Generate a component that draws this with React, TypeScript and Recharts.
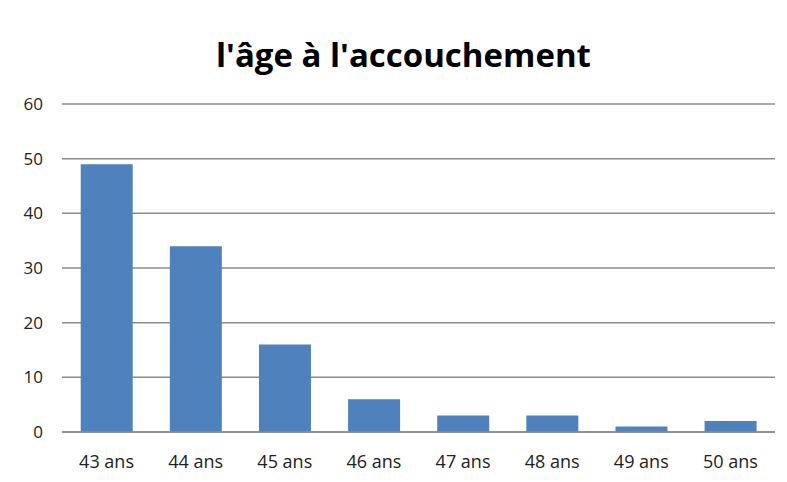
import { Bar, BarChart, CartesianGrid, XAxis, YAxis } from "recharts";

// values
const CATEGORIES = ["43 ans", "44 ans", "45 ans", "46 ans", "47 ans", "48 ans", "49 ans", "50 ans"];
const COUNTS = [49, 34, 16, 6, 3, 3, 1, 2];
const Y_TICKS = [0, 10, 20, 30, 40, 50, 60];

const data = CATEGORIES.map((name, i) => ({ name, value: COUNTS[i] }));

const FONT = "'Open Sans', 'Noto Sans', sans-serif";

export default function App() {
  return (
    <div
      style={{
        position: "fixed",
        left: 0,
        top: 0,
        width: 787,
        height: 482,
        background: "#fff",
        fontFamily: FONT,
      }}
    >
      <div
        style={{
          position: "absolute",
          left: 20,
          width: 767,
          top: 30,
          textAlign: "center",
          fontSize: 33,
          fontWeight: 700,
          color: "#000",
          lineHeight: "50px",
        }}
      >
        l'âge à l'accouchement
      </div>
      <BarChart
        width={787}
        height={482}
        data={data}
        margin={{ top: 104, right: 12, bottom: 20, left: 0 }}
        barCategoryGap="21%"
        style={{ position: "absolute", left: 0, top: 0 }}
      >
        <CartesianGrid vertical={false} stroke="#8c8c8c" strokeWidth={1.5} />
        <XAxis
          dataKey="name"
          height={30}
          tickLine={false}
          axisLine={{ stroke: "#8c8c8c", strokeWidth: 1.5 }}
          tick={{ fontSize: 18, fill: "#222", fontFamily: FONT }}
          tickMargin={17}
          interval={0}
        />
        <YAxis
          width={62}
          domain={[0, 60]}
          ticks={Y_TICKS}
          tickLine={false}
          axisLine={false}
          tick={{ fontSize: 17, fill: "#222", fontFamily: FONT }}
          tickMargin={13}
        />
        <Bar dataKey="value" fill="#4F81BD" isAnimationActive={false} />
      </BarChart>
    </div>
  );
}
